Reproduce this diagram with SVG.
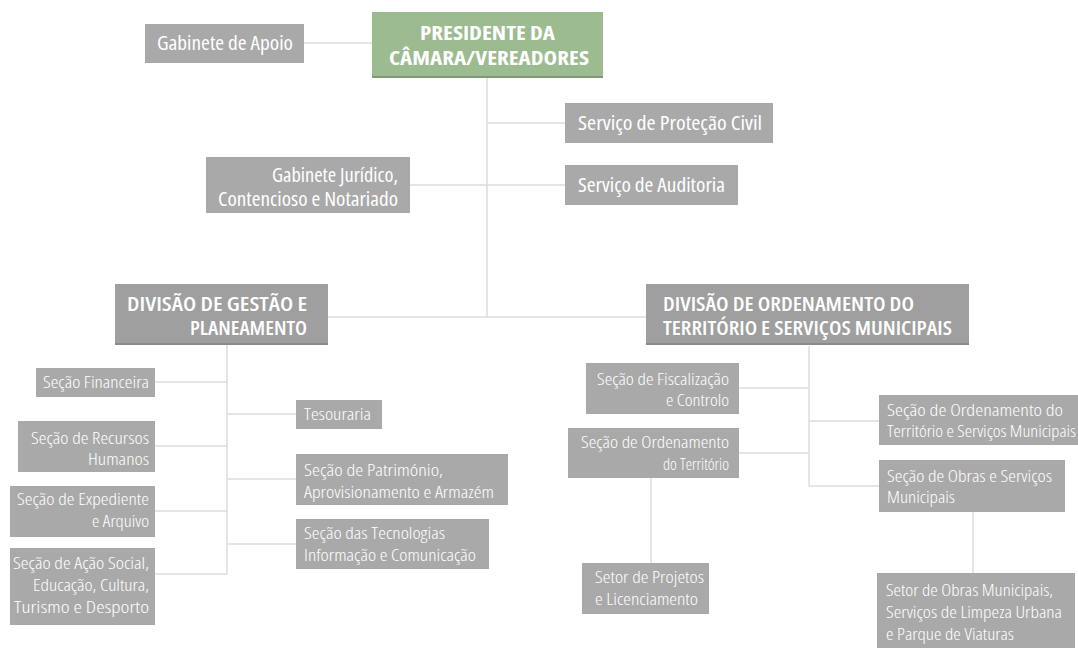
<svg xmlns="http://www.w3.org/2000/svg" width="1078" height="648" viewBox="0 0 1078 648">
<style>
  .bg{fill:#ffffff}
  .box{fill:#a9a9a9}
  .div{fill:#9f9f9f}
  .pres{fill:#9cbb90}
  .shadow{fill:#8a8a8a}
  .gshadow{fill:#7f9a74}
  .conn{stroke:#dcdcdc;stroke-width:1.5;fill:none}
  text{font-family:"Open Sans","Noto Sans","Liberation Sans",sans-serif;fill:#ffffff;font-stretch:condensed}
  .t1{font-size:19px;font-weight:400}
  .t2{font-size:16.5px;font-weight:300}
  .tb{font-size:20px;font-weight:700}
  .td{font-size:19px;font-weight:600}
  .end{text-anchor:end}
  .mid{text-anchor:middle}
</style>
<rect class="bg" x="0" y="0" width="1078" height="648"/>
<g id="connectors">
  <line class="conn" x1="304" y1="43" x2="372" y2="43"/>
  <line class="conn" x1="487" y1="78" x2="487" y2="318"/>
  <line class="conn" x1="487" y1="123" x2="565" y2="123"/>
  <line class="conn" x1="410" y1="185" x2="565" y2="185"/>
  <line class="conn" x1="328" y1="317" x2="647" y2="317"/>
  <line class="conn" x1="227" y1="345" x2="227" y2="574"/>
  <line class="conn" x1="155" y1="382" x2="227" y2="382"/>
  <line class="conn" x1="155" y1="446" x2="227" y2="446"/>
  <line class="conn" x1="155" y1="511" x2="227" y2="511"/>
  <line class="conn" x1="155" y1="574" x2="227" y2="574"/>
  <line class="conn" x1="227" y1="414" x2="296" y2="414"/>
  <line class="conn" x1="227" y1="479" x2="296" y2="479"/>
  <line class="conn" x1="227" y1="544" x2="296" y2="544"/>
  <line class="conn" x1="809" y1="346" x2="809" y2="486"/>
  <line class="conn" x1="739" y1="388" x2="809" y2="388"/>
  <line class="conn" x1="739" y1="453" x2="809" y2="453"/>
  <line class="conn" x1="809" y1="421" x2="879" y2="421"/>
  <line class="conn" x1="809" y1="486" x2="879" y2="486"/>
  <line class="conn" x1="651" y1="478" x2="651" y2="563"/>
  <line class="conn" x1="973" y1="512" x2="973" y2="573"/>
</g>
<g id="n-gabinete-apoio">
  <rect class="box" x="145" y="24" width="159" height="39"/>
  <text class="t1" x="157" y="50" textLength="136" lengthAdjust="spacingAndGlyphs">Gabinete de Apoio</text>
</g>
<g id="n-presidente">
  <rect class="pres" x="372" y="12" width="231" height="65"/>
  <rect class="gshadow" x="372" y="76" width="231" height="2"/>
  <text class="tb mid"><tspan x="487.5" y="40" textLength="135" lengthAdjust="spacingAndGlyphs">PRESIDENTE DA</tspan><tspan x="489" y="65" textLength="200" lengthAdjust="spacingAndGlyphs">CÂMARA/VEREADORES</tspan></text>
</g>
<g id="n-protecao-civil">
  <rect class="box" x="565" y="103" width="208" height="40"/>
  <text class="t1" x="578" y="130" textLength="184" lengthAdjust="spacingAndGlyphs">Serviço de Proteção Civil</text>
</g>
<g id="n-auditoria">
  <rect class="box" x="565" y="165" width="173" height="40"/>
  <text class="t1" x="578" y="192" textLength="147" lengthAdjust="spacingAndGlyphs">Serviço de Auditoria</text>
</g>
<g id="n-gabinete-juridico">
  <rect class="box" x="206" y="157" width="204" height="56"/>
  <text class="t1 end"><tspan x="398" y="182" textLength="126" lengthAdjust="spacingAndGlyphs">Gabinete Jurídico,</tspan><tspan x="398" y="206" textLength="180" lengthAdjust="spacingAndGlyphs">Contencioso e Notariado</tspan></text>
</g>
<g id="n-divisao-gestao">
  <rect class="div" x="115" y="284" width="213" height="60"/>
  <rect class="shadow" x="115" y="343" width="213" height="2"/>
  <text class="td end"><tspan x="307" y="311" textLength="180" lengthAdjust="spacingAndGlyphs">DIVISÃO DE GESTÃO E</tspan><tspan x="307" y="335" textLength="117" lengthAdjust="spacingAndGlyphs">PLANEAMENTO</tspan></text>
</g>
<g id="n-divisao-ordenamento">
  <rect class="div" x="646" y="284" width="323" height="60"/>
  <rect class="shadow" x="646" y="343" width="323" height="2"/>
  <text class="td"><tspan x="663" y="311" textLength="251" lengthAdjust="spacingAndGlyphs">DIVISÃO DE ORDENAMENTO DO</tspan><tspan x="663" y="335" textLength="289" lengthAdjust="spacingAndGlyphs">TERRITÓRIO E SERVIÇOS MUNICIPAIS</tspan></text>
</g>
<g id="n-secao-financeira">
  <rect class="box" x="36" y="368" width="119" height="29"/>
  <text class="t2 end" x="149" y="388" textLength="106" lengthAdjust="spacingAndGlyphs">Seção Financeira</text>
</g>
<g id="n-recursos-humanos">
  <rect class="box" x="18" y="421" width="137" height="51"/>
  <text class="t2 end"><tspan x="149" y="444" textLength="118" lengthAdjust="spacingAndGlyphs">Seção de Recursos</tspan><tspan x="149" y="465" textLength="61" lengthAdjust="spacingAndGlyphs">Humanos</tspan></text>
</g>
<g id="n-expediente">
  <rect class="box" x="10" y="486" width="145" height="51"/>
  <text class="t2 end"><tspan x="149" y="505" textLength="132" lengthAdjust="spacingAndGlyphs">Seção de Expediente</tspan><tspan x="149" y="527" textLength="57" lengthAdjust="spacingAndGlyphs">e Arquivo</tspan></text>
</g>
<g id="n-acao-social">
  <rect class="box" x="10" y="548" width="145" height="77"/>
  <text class="t2 end"><tspan x="149" y="569" textLength="136" lengthAdjust="spacingAndGlyphs">Seção de Ação Social,</tspan><tspan x="149" y="591" textLength="116" lengthAdjust="spacingAndGlyphs">Educação, Cultura,</tspan><tspan x="149" y="613" textLength="135" lengthAdjust="spacingAndGlyphs">Turismo e Desporto</tspan></text>
</g>
<g id="n-tesouraria">
  <rect class="box" x="296" y="400" width="86" height="29"/>
  <text class="t2" x="304" y="420" textLength="67" lengthAdjust="spacingAndGlyphs">Tesouraria</text>
</g>
<g id="n-patrimonio">
  <rect class="box" x="296" y="454" width="212" height="51"/>
  <text class="t2"><tspan x="304" y="476" textLength="139" lengthAdjust="spacingAndGlyphs">Seção de Património,</tspan><tspan x="304" y="498" textLength="190" lengthAdjust="spacingAndGlyphs">Aprovisionamento e Armazém</tspan></text>
</g>
<g id="n-tecnologias">
  <rect class="box" x="296" y="519" width="193" height="50"/>
  <text class="t2"><tspan x="304" y="539" textLength="141" lengthAdjust="spacingAndGlyphs">Seção das Tecnologias</tspan><tspan x="304" y="561" textLength="172" lengthAdjust="spacingAndGlyphs">Informação e Comunicação</tspan></text>
</g>
<g id="n-fiscalizacao">
  <rect class="box" x="586" y="363" width="153" height="51"/>
  <text class="t2 end"><tspan x="729" y="385" textLength="132" lengthAdjust="spacingAndGlyphs">Seção de Fiscalização</tspan><tspan x="729" y="406" textLength="63" lengthAdjust="spacingAndGlyphs">e Controlo</tspan></text>
</g>
<g id="n-ordenamento-territorio">
  <rect class="box" x="568" y="428" width="171" height="50"/>
  <text class="t2 end"><tspan x="729" y="448" textLength="148" lengthAdjust="spacingAndGlyphs">Seção de Ordenamento</tspan><tspan x="729" y="470" textLength="66" lengthAdjust="spacingAndGlyphs">do Território</tspan></text>
</g>
<g id="n-projetos">
  <rect class="box" x="582" y="563" width="127" height="51"/>
  <text class="t2"><tspan x="595" y="583" textLength="109" lengthAdjust="spacingAndGlyphs">Setor de Projetos</tspan><tspan x="595" y="605" textLength="103" lengthAdjust="spacingAndGlyphs">e Licenciamento</tspan></text>
</g>
<g id="n-ordenamento-servicos">
  <rect class="box" x="879" y="395" width="199" height="50"/>
  <text class="t2"><tspan x="887" y="416" textLength="176" lengthAdjust="spacingAndGlyphs">Seção de Ordenamento do</tspan><tspan x="887" y="437" textLength="189" lengthAdjust="spacingAndGlyphs">Território e Serviços Municipais</tspan></text>
</g>
<g id="n-obras-servicos">
  <rect class="box" x="879" y="460" width="186" height="52"/>
  <text class="t2"><tspan x="887" y="482" textLength="165" lengthAdjust="spacingAndGlyphs">Seção de Obras e Serviços</tspan><tspan x="887" y="503" textLength="68" lengthAdjust="spacingAndGlyphs">Municipais</tspan></text>
</g>
<g id="n-obras-municipais">
  <rect class="box" x="877" y="573" width="198" height="75"/>
  <text class="t2"><tspan x="886" y="596" textLength="167" lengthAdjust="spacingAndGlyphs">Setor de Obras Municipais,</tspan><tspan x="886" y="618" textLength="176" lengthAdjust="spacingAndGlyphs">Serviços de Limpeza Urbana</tspan><tspan x="886" y="640" textLength="128" lengthAdjust="spacingAndGlyphs">e Parque de Viaturas</tspan></text>
</g>
</svg>
